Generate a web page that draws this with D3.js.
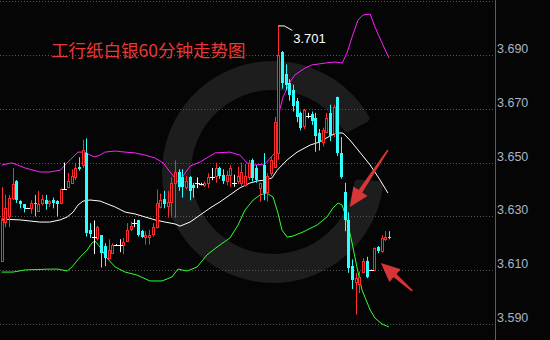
<!DOCTYPE html>
<html><head><meta charset="utf-8">
<script src="https://cdn.jsdelivr.net/npm/d3@7/dist/d3.min.js"></script>
<style>html,body{margin:0;padding:0;background:#050505;overflow:hidden}</style>
</head><body>
<svg id="chart" width="550" height="340"></svg>
<script>
// ---- data ----
const title = "工行纸白银60分钟走势图";
const open = [3.6134,3.628,3.630,3.637,3.643,3.6356,3.6345,3.633,3.633,3.635,3.632,3.635,3.636,3.635,3.636,3.6357,3.635,3.6403,3.641,3.6425,
3.6445,3.6485,3.649,3.6535,3.625,3.6225,3.622,3.623,3.619,3.6145,3.6165,3.6195,3.6195,3.6195,3.621,3.6255,3.6275,3.6285,3.6245,3.6225,
3.6225,3.6235,3.626,3.6335,3.6365,3.634,3.6355,3.6425,3.6465,3.6445,3.641,3.6445,3.6415,3.6425,3.642,3.6415,3.6425,3.6447,3.645,3.648,
3.6455,3.6432,3.6455,3.6425,3.6432,3.6425,3.6415,3.6448,3.651,3.648,3.6405,3.6491,3.639,3.6461,3.6485,3.6536,3.691,3.683,3.6795,3.677,
3.673,3.6685,3.6635,3.6675,3.668,3.6665,3.661,3.6575,3.6615,3.6685,3.661,3.6745,3.6535,3.639,3.6287,3.6115,3.6055,3.605,3.6095,3.6135,
3.610,3.610,3.6185,3.617,3.6215,3.6225];
const high = [3.6409,3.638,3.638,3.648,3.6435,3.636,3.6345,3.6332,3.636,3.638,3.6395,3.638,3.638,3.636,3.637,3.636,3.6405,3.650,3.6462,3.6475,
3.650,3.652,3.6585,3.659,3.6275,3.6285,3.6265,3.623,3.620,3.6215,3.620,3.6197,3.6215,3.622,3.6275,3.628,3.629,3.6285,3.625,3.6245,
3.625,3.6275,3.640,3.6385,3.6395,3.6395,3.6445,3.6508,3.6475,3.6475,3.645,3.645,3.6425,3.6445,3.6425,3.643,3.646,3.648,3.650,3.6485,
3.6475,3.647,3.649,3.6455,3.6485,3.650,3.6495,3.651,3.6515,3.649,3.6425,3.6535,3.646,3.652,3.667,3.701,3.6915,3.6865,3.681,3.679,
3.674,3.669,3.670,3.6685,3.669,3.6685,3.6625,3.663,3.6685,3.6715,3.6715,3.6745,3.6595,3.6425,3.6315,3.614,3.609,3.6095,3.6145,3.615,
3.6102,3.6185,3.619,3.623,3.6245,3.6245];
const low = [3.6134,3.626,3.626,3.636,3.635,3.633,3.6315,3.6328,3.631,3.630,3.632,3.634,3.6325,3.6335,3.633,3.630,3.6345,3.640,3.6405,3.642,
3.6435,3.647,3.648,3.6225,3.622,3.616,3.621,3.611,3.6115,3.614,3.616,3.6193,3.6167,3.616,3.6205,3.6245,3.626,3.6225,3.622,3.6195,
3.6195,3.6225,3.6255,3.633,3.633,3.6295,3.6295,3.6295,3.6395,3.637,3.640,3.636,3.637,3.6405,3.6415,3.641,3.6405,3.6435,3.6425,3.644,
3.642,3.6415,3.641,3.641,3.642,3.641,3.641,3.6435,3.643,3.6425,3.6355,3.636,3.6355,3.645,3.648,3.651,3.6775,3.677,3.673,3.669,
3.665,3.662,3.6625,3.6665,3.664,3.654,3.6545,3.656,3.661,3.658,3.6595,3.6525,3.644,3.6245,3.609,3.603,3.5935,3.6015,3.609,3.607,
3.6098,3.6095,3.6163,3.6165,3.6208,3.6215];
const close = [3.6287,3.633,3.637,3.642,3.636,3.6345,3.633,3.633,3.635,3.6345,3.6345,3.6365,3.6345,3.6357,3.635,3.6345,3.640,3.6403,3.643,3.645,
3.648,3.6475,3.6545,3.6238,3.6233,3.6225,3.626,3.6165,3.6145,3.6175,3.6195,3.6195,3.6195,3.6205,3.625,3.6265,3.6275,3.623,3.6225,3.623,
3.623,3.626,3.635,3.636,3.6345,3.6355,3.6425,3.6465,3.641,3.641,3.643,3.6395,3.6405,3.6425,3.642,3.6425,3.6448,3.6447,3.648,3.645,
3.6433,3.6455,3.648,3.6425,3.645,3.6465,3.645,3.650,3.6443,3.6435,3.6425,3.6387,3.645,3.651,3.665,3.690,3.6796,3.679,3.675,3.671,
3.667,3.663,3.6695,3.6675,3.6655,3.660,3.6575,3.662,3.6665,3.660,3.6705,3.6535,3.6447,3.6287,3.611,3.6065,3.607,3.6075,3.6135,3.6075,
3.610,3.6183,3.617,3.622,3.6225,3.622];
// Bollinger bands as [bar index, price]
const upperBand = [[0,3.6491],[2.85,3.6499],[6.4,3.6480],[10.4,3.6465],[13.1,3.6465],[15.9,3.6472],[18.6,3.6510],[20.7,3.6539],[22.6,3.6539],[24,3.6528],
[25.3,3.6521],[26.7,3.6528],[28,3.6539],[30.8,3.6543],[33.5,3.6539],[36.2,3.6536],[38.9,3.6528],[41.6,3.6517],[43.8,3.6499],[45.7,3.6465],
[47.8,3.6428],[49.2,3.6450],[51.1,3.6487],[53.8,3.6502],[57.9,3.6536],[61.9,3.6539],[64.6,3.6528],[66.5,3.6499],[68.7,3.6491],[71.4,3.6495],
[72.8,3.6517],[74.1,3.6536],[74.9,3.6670],[76.3,3.6744],[78.2,3.6800],[79.5,3.6826],[82.3,3.6852],[84.1,3.6863],[87.7,3.6870],[90.4,3.6874],
[92.3,3.6870],[93.6,3.6907],[95,3.6967],[96.6,3.7030],[97.96,3.7049],[99.9,3.7052],[101.2,3.7004],[103.1,3.6945],[105,3.6889]];
const middleBand = [[0,3.6290],[5,3.6287],[7.7,3.6283],[10.4,3.6279],[13.1,3.6279],[15.9,3.6287],[17.8,3.6298],[19.4,3.6316],[20.7,3.6342],[22.1,3.6357],
[24,3.6361],[26.7,3.6357],[28,3.6350],[30.8,3.6335],[33.5,3.6316],[36.2,3.6309],[38.9,3.6298],[41.6,3.6287],[44.3,3.6279],[47,3.6272],
[48.4,3.6264],[51.1,3.6279],[53.8,3.6305],[56.5,3.6331],[59.2,3.6354],[61.9,3.6380],[64.6,3.6406],[67.3,3.6424],[69.5,3.6432],[71.4,3.6435],
[73.3,3.6443],[74.7,3.6472],[77.4,3.6510],[80.1,3.6539],[83.6,3.6565],[86.3,3.6577],[89,3.6599],[90.9,3.6610],[92.5,3.6610],[94.4,3.6584],
[96.6,3.6547],[99.9,3.6491],[102.6,3.6435],[104.7,3.6387]];
const lowerBand = [[0,3.6093],[3.1,3.6093],[6.4,3.6101],[13.1,3.6104],[15.3,3.6104],[17.8,3.6097],[19.1,3.6112],[21.3,3.6149],[23.2,3.6175],[24.5,3.6201],
[25.3,3.6209],[26.7,3.6186],[28.6,3.6145],[30.8,3.6112],[33.5,3.6093],[36.7,3.6082],[40.2,3.6060],[43.5,3.6060],[46.2,3.6075],[47.8,3.6104],
[50.3,3.6097],[53,3.6112],[55.7,3.6157],[58.4,3.6186],[61.9,3.6220],[64.1,3.6268],[66,3.6324],[68.2,3.6361],[70.1,3.6380],[71.9,3.6387],
[73.6,3.6372],[74.9,3.6313],[76,3.6249],[77.4,3.6223],[79,3.6227],[81.7,3.6242],[85.5,3.6268],[88.2,3.6298],[89.8,3.6331],[91.2,3.6350],
[92.3,3.6342],[93.6,3.6287],[95,3.6201],[96.3,3.6112],[97.7,3.6026],[99.9,3.5952],[101.2,3.5922],[103.1,3.5900],[105,3.5889]];
const labelTicks = [3.590, 3.610, 3.630, 3.650, 3.670, 3.690];
const gridTicks = [3.590, 3.610, 3.630, 3.650, 3.670, 3.690, 3.710];
const peakIndex = 75, peakValue = 3.701;
// arrows: [tail index, tail price, tip index, tip price]
const arrows = [[104.7,3.6547,94.4,3.6335],[111.3,3.6023,102.8,3.6127]];

// ---- drawing ----
const W = 550, H = 340, axisX = 495;
const svg = d3.select("#chart");
svg.append("rect").attr("width", W).attr("height", H).attr("fill", "#050505");

const x = d3.scaleLinear().domain([0, open.length - 1]).range([1.5, 389]);
const y = d3.scaleLinear().domain([3.59, 3.69]).range([324, 55]);

// watermark ring
const deg = Math.PI / 180;
svg.append("path")
  .attr("transform", "translate(273,172)")
  .attr("d", d3.arc().innerRadius(82).outerRadius(111).startAngle(95 * deg).endAngle(422 * deg).cornerRadius(4)())
  .attr("fill", "#1d1d1d");

// grid
const grid = svg.append("g").attr("transform", "translate(0,0)")
  .call(d3.axisRight(y).tickValues(gridTicks).tickSize(axisX).tickFormat(""));
grid.select(".domain").remove();
grid.selectAll("line").attr("stroke", "#555555").attr("stroke-dasharray", "1,2")
  .attr("shape-rendering", "crispEdges");

// right axis
svg.append("line").attr("x1", axisX + 0.5).attr("x2", axisX + 0.5).attr("y1", 0).attr("y2", H)
  .attr("stroke", "#5a5f66");
const ax = svg.append("g").attr("transform", `translate(${axisX},0)`)
  .call(d3.axisRight(y).tickValues(labelTicks).tickFormat(d3.format(".3f")).tickSize(0).tickPadding(2));
ax.select(".domain").remove();
ax.selectAll("text").attr("dy", "-0.2em").attr("fill", "#aab4c6")
  .attr("font-family", "Liberation Sans, Arial, sans-serif").attr("font-size", "12.5px");

// bands
const line = d3.line().x(d => x(d[0])).y(d => y(d[1]));
svg.append("path").attr("d", line(middleBand)).attr("fill", "none").attr("stroke", "#ffffff").attr("stroke-width", 1);
svg.append("path").attr("d", line(upperBand)).attr("fill", "none").attr("stroke", "#ff20ff").attr("stroke-width", 1);
svg.append("path").attr("d", line(lowerBand)).attr("fill", "none").attr("stroke", "#30ff30").attr("stroke-width", 1);

// candles
const RED = "#ff2a2a", CYAN = "#30ffff", WHITE = "#ffffff";
const bars = d3.range(open.length).map(i => ({i, o: open[i], h: high[i], l: low[i], c: close[i]}));
const col = d => d.c > d.o ? RED : (d.c < d.o ? CYAN : WHITE);
const cx = d => Math.round(x(d.i)) + 0.5;
const g = svg.append("g");
g.selectAll(".wick").data(bars).join("line")
  .attr("x1", cx).attr("x2", cx)
  .attr("y1", d => y(d.h)).attr("y2", d => y(d.l))
  .attr("stroke", col).attr("stroke-width", 1);
// up: hollow red
g.selectAll(".up").data(bars.filter(d => d.c > d.o)).join("rect")
  .attr("x", d => cx(d) - 1).attr("width", 2)
  .attr("y", d => Math.round(y(d.c)) + 0.5)
  .attr("height", d => Math.max(1, Math.round(y(d.o)) - Math.round(y(d.c))))
  .attr("fill", "#050505").attr("stroke", RED).attr("stroke-width", 1);
// down: filled cyan
g.selectAll(".dn").data(bars.filter(d => d.c < d.o)).join("rect")
  .attr("x", d => cx(d) - 1.5).attr("width", 3)
  .attr("y", d => Math.round(y(d.o)))
  .attr("height", d => Math.max(1, Math.round(y(d.c)) - Math.round(y(d.o))))
  .attr("fill", CYAN);
// doji: white cross
g.selectAll(".dj").data(bars.filter(d => d.c === d.o)).join("line")
  .attr("x1", d => cx(d) - 2.5).attr("x2", d => cx(d) + 2.5)
  .attr("y1", d => Math.round(y(d.o)) + 0.5).attr("y2", d => Math.round(y(d.o)) + 0.5)
  .attr("stroke", WHITE).attr("stroke-width", 1);

// peak annotation
const px = x(peakIndex), py = y(peakValue);
svg.append("path")
  .attr("d", `M${px},${py + 0.5} L${px + 6},${py + 0.5} L${px + 14},${py + 5}`)
  .attr("fill", "none").attr("stroke", WHITE).attr("stroke-width", 1);
svg.append("text").attr("x", px + 15).attr("y", py + 18).text(d3.format(".3f")(peakValue))
  .attr("fill", WHITE).attr("font-family", "Liberation Sans, Arial, sans-serif").attr("font-size", "13px");

// arrows
arrows.forEach(a => {
  const x0 = x(a[0]), y0 = y(a[1]), x1 = x(a[2]), y1 = y(a[3]);
  const L = Math.hypot(x1 - x0, y1 - y0), ux = (x1 - x0) / L, uy = (y1 - y0) / L, nx = -uy, ny = ux;
  const hl = 19, hw = 8.5;
  const P = (t, w) => [x0 + ux * t + nx * w, y0 + uy * t + ny * w];
  const pts = [P(0, 0.8), P(L - hl, 2.2), P(L - hl, hw), P(L, 0), P(L - hl, -hw), P(L - hl, -2.2), P(0, -0.8)];
  svg.append("polygon").attr("points", pts.map(p => p.join(",")).join(" "))
    .attr("fill", "#e83a3a").attr("opacity", 0.92);
});

// title
svg.append("text").attr("x", 51).attr("y", 57).text(title)
  .attr("fill", "#e83838").attr("font-family", "Noto Sans CJK SC, sans-serif").attr("font-size", "17.5px");
</script>
</body></html>
